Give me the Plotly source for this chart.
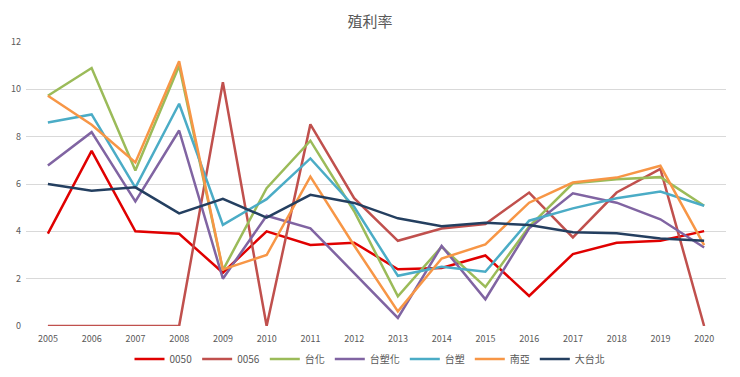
import plotly.graph_objects as go

years = [str(y) for y in range(2005, 2021)]

s0050 = [3.9, 7.4, 4.0, 3.9, 2.25, 4.0, 3.42, 3.52, 2.4, 2.45, 2.98, 1.27, 3.04, 3.52, 3.6, 4.01]
s0056 = [0, 0, 0, 0, 10.3, 0, 8.52, 5.4, 3.6, 4.12, 4.31, 5.64, 3.74, 5.64, 6.64, 0]
tai_hua = [9.73, 10.9, 6.57, 11.0, 2.36, 5.82, 7.83, 4.85, 1.25, 3.35, 1.65, 4.2, 6.03, 6.2, 6.29, 5.08]
tai_su_hua = [6.78, 8.19, 5.26, 8.26, 2.0, 4.66, 4.13, 2.23, 0.34, 3.38, 1.13, 4.13, 5.61, 5.21, 4.51, 3.32]
tai_su = [8.6, 8.94, 5.85, 9.39, 4.27, 5.36, 7.08, 5.04, 2.12, 2.5, 2.29, 4.45, 4.97, 5.4, 5.68, 5.08]
nan_ya = [9.73, 8.5, 6.91, 11.19, 2.39, 3.0, 6.31, 3.4, 0.62, 2.85, 3.45, 5.21, 6.06, 6.27, 6.77, 3.42]
da_tai_bei = [6.0, 5.72, 5.86, 4.76, 5.37, 4.58, 5.54, 5.2, 4.55, 4.22, 4.36, 4.27, 3.96, 3.92, 3.7, 3.6]

series_names = ["0050", "0056", "台化", "台塑化", "台塑", "南亞", "大台北"]
series_vals = [s0050, s0056, tai_hua, tai_su_hua, tai_su, nan_ya, da_tai_bei]
colors = ["#E00000", "#C0504D", "#9BBB59", "#8064A2", "#4BACC6", "#F79646", "#243F60"]

FONT = "Noto Sans CJK TC, Noto Sans, sans-serif"

# page body has an 8px margin, so the figure is laid out in a 732x369 box
W, H = 732, 369

fig = go.Figure()
for name, vals, c in zip(series_names, series_vals, colors):
    fig.add_trace(go.Scatter(x=years, y=vals, name=name, mode="lines",
                             line=dict(color=c, width=2.5)))

fig.update_layout(
    width=W, height=H,
    margin=dict(l=18, r=14, t=34, b=51),
    paper_bgcolor="white", plot_bgcolor="white",
    font=dict(family=FONT, color="#595959", size=10),
    title=dict(text="殖利率", x=(370 - 8) / W, xref="container", xanchor="center",
               y=1 - 14 / H, yanchor="middle", yref="container",
               font=dict(size=15, color="#595959", family=FONT)),
    xaxis=dict(type="category", range=[-0.5, 15.5], showgrid=False,
               showline=False, zeroline=False, ticks="", automargin=False,
               ticklabelstandoff=6,
               tickfont=dict(size=9, color="#595959")),
    yaxis=dict(range=[0, 12], dtick=2, showgrid=True, gridcolor="#D9D9D9",
               gridwidth=1, zeroline=False, showline=False, ticks="",
               automargin=False, ticklabelstandoff=4,
               tickfont=dict(size=9, color="#595959")),
    legend=dict(orientation="h", x=(370 - 8) / W, xref="container", xanchor="center",
                y=1 - 351 / H, yref="container", yanchor="middle",
                font=dict(size=10, color="#595959", family=FONT),
                itemwidth=30, tracegroupgap=0),
    showlegend=True,
)

fig.write_html("out.html")
